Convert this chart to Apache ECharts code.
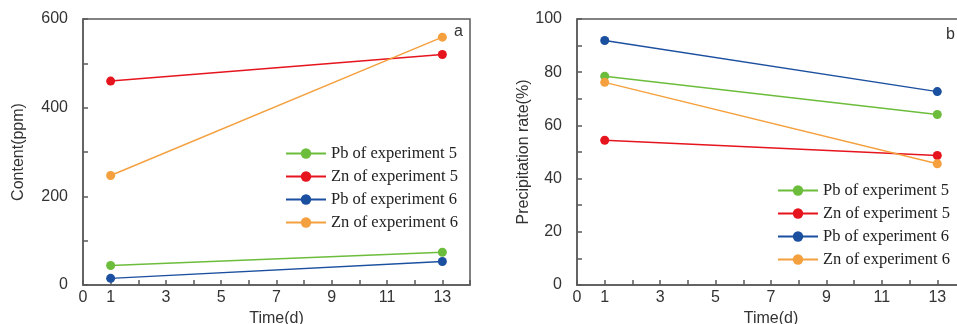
<!DOCTYPE html>
<html>
<head>
<meta charset="utf-8">
<script src="https://cdn.jsdelivr.net/npm/echarts@6/dist/echarts.min.js"></script>
<style>html,body{margin:0;padding:0;background:#fff}#c{width:957px;height:324px}</style>
</head>
<body>
<div id="c"></div>
<script>
const days = [1, 13];
const seriesNames = ['Pb of experiment 5', 'Zn of experiment 5', 'Pb of experiment 6', 'Zn of experiment 6'];
const contentPb5 = [44, 74];
const contentZn5 = [460, 520];
const contentPb6 = [15, 53];
const contentZn6 = [247, 559];
const ratePb5 = [78.5, 64.1];
const rateZn5 = [54.4, 48.7];
const ratePb6 = [91.9, 72.7];
const rateZn6 = [76.2, 45.6];
const colors = ['#6cbd3c', '#e6141d', '#1b4f9f', '#f4a03e'];

const chart = echarts.init(document.getElementById('c'));
const axisCol = '#5a5a5a';
const labelStyle = {fontFamily: 'Liberation Sans', fontSize: 16, color: '#333'};

function xAxis(gi) {
  return {
    type: 'value', gridIndex: gi, min: 0, max: 14, interval: 1,
    name: 'Time(d)', nameLocation: 'middle', nameGap: 22,
    nameTextStyle: labelStyle,
    axisLine: {show: true, lineStyle: {color: axisCol, width: 1.5}},
    axisTick: {show: true, inside: true, length: 5, lineStyle: {color: axisCol, width: 1.5}},
    axisLabel: Object.assign({margin: 5, interval: 0, showMaxLabel: true, showMinLabel: true,
      formatter: v => (v === 0 || v % 2 === 1) ? String(v) : ''}, labelStyle),
    splitLine: {show: false}
  };
}
function yAxis(gi, max, interval, labelStep, name, gap) {
  return {
    type: 'value', gridIndex: gi, min: 0, max: max, interval: interval,
    name: name, nameLocation: 'middle', nameGap: gap,
    nameTextStyle: labelStyle,
    axisLine: {show: true, lineStyle: {color: axisCol, width: 1.5}},
    axisTick: {show: true, inside: true, length: 5, lineStyle: {color: axisCol, width: 1.5}},
    axisLabel: Object.assign({margin: 15, interval: 0,
      formatter: v => (v % labelStep === 0) ? String(v) : ''}, labelStyle),
    splitLine: {show: false}
  };
}
function mk(name, vals, gi, ci) {
  return {
    type: 'line', name: name, xAxisIndex: gi, yAxisIndex: gi,
    data: days.map((d, i) => [d, vals[i]]),
    symbol: 'circle', symbolSize: 9, showSymbol: true,
    itemStyle: {color: colors[ci]},
    lineStyle: {color: colors[ci], width: 1.4},
    animation: false
  };
}
const legendBase = {
  data: seriesNames, orient: 'vertical', itemWidth: 40, itemHeight: 13, itemGap: 6, padding: 0,
  textStyle: {fontFamily: 'Liberation Serif', fontSize: 16.5, color: '#222', lineHeight: 13},
  selectedMode: false
};
chart.setOption({
  backgroundColor: '#fff',
  animation: false,
  grid: [
    {left: 83, top: 19, width: 387, height: 266, show: true, borderColor: axisCol, borderWidth: 1.5, containLabel: false, outerBoundsMode: 'none'},
    {left: 577, top: 19, width: 388, height: 266, show: true, borderColor: axisCol, borderWidth: 1.5, containLabel: false, outerBoundsMode: 'none'}
  ],
  xAxis: [xAxis(0), xAxis(1)],
  yAxis: [yAxis(0, 600, 100, 200, 'Content(ppm)', 56), yAxis(1, 100, 10, 20, 'Precipitation rate(%)', 44)],
  legend: [
    Object.assign({left: 285, top: 145}, legendBase),
    Object.assign({left: 777, top: 182}, legendBase)
  ],
  title: [
    {text: 'a', left: 449, top: 19, textStyle: {fontFamily: 'Liberation Sans', fontSize: 16, fontWeight: 'normal', color: '#333'}},
    {text: 'b', left: 941, top: 22, textStyle: {fontFamily: 'Liberation Sans', fontSize: 16, fontWeight: 'normal', color: '#333'}}
  ],
  series: [
    mk(seriesNames[0], contentPb5, 0, 0),
    mk(seriesNames[1], contentZn5, 0, 1),
    mk(seriesNames[2], contentPb6, 0, 2),
    mk(seriesNames[3], contentZn6, 0, 3),
    mk(seriesNames[0], ratePb5, 1, 0),
    mk(seriesNames[1], rateZn5, 1, 1),
    mk(seriesNames[2], ratePb6, 1, 2),
    mk(seriesNames[3], rateZn6, 1, 3)
  ]
});
</script>
</body>
</html>
